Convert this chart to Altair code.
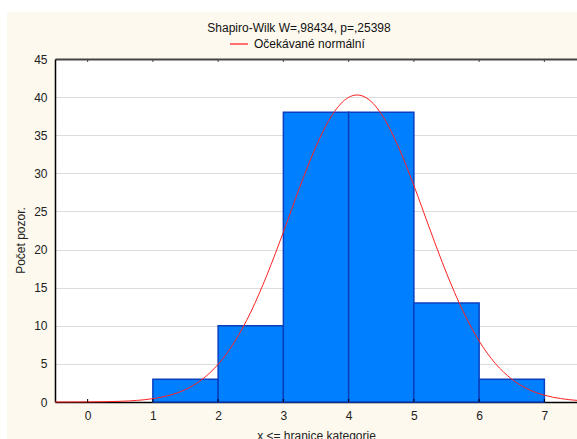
import altair as alt
import pandas as pd

# Histogram data
bin_start = [1, 2, 3, 4, 5, 6]
bin_end = [2, 3, 4, 5, 6, 7]
counts = [3, 10, 38, 38, 13, 3]

# Expected normal curve
curve_x = [-0.5, -0.25, 0, 0.25, 0.5, 0.75, 1, 1.25, 1.5, 1.75, 2, 2.25, 2.5, 2.75, 3,
           3.25, 3.5, 3.75, 4, 4.13, 4.25, 4.5, 4.75, 5, 5.25, 5.5, 5.75, 6, 6.25, 6.5,
           6.75, 7, 7.25, 7.5]
curve_y = [0.002, 0.006, 0.015, 0.038, 0.091, 0.205, 0.44, 0.87, 1.64, 2.94, 4.94, 7.86,
           11.79, 16.70, 22.3, 28.16, 33.52, 37.68, 39.97, 40.28, 40.01, 37.81, 33.72, 28.4,
           22.55, 16.91, 11.97, 8.0, 5.04, 3.00, 1.68, 0.89, 0.45, 0.21]

x_ticks = [0, 1, 2, 3, 4, 5, 6, 7]
y_ticks = [0, 5, 10, 15, 20, 25, 30, 35, 40, 45]

title_text = "Shapiro-Wilk W=,98434, p=,25398"
legend_text = "Očekávané normální"
x_title = "x <= hranice kategorie"
y_title = "Počet pozor."

W, H = 522, 343
FONT = "Liberation Sans"

bars_df = pd.DataFrame({"start": bin_start, "end": bin_end, "count": counts})
curve_df = pd.DataFrame({"x": curve_x, "y": curve_y})
ticks_df = pd.DataFrame({"t": x_ticks})
one = alt.Data(values=[{"a": 1}])

xscale = alt.Scale(domain=[-0.5, 7.5], nice=False, zero=False)
yscale = alt.Scale(domain=[0, 45], nice=False, zero=True)

x_axis = alt.Axis(values=x_ticks, format="d", title=x_title, grid=False, ticks=False,
                  domainColor="#000000", domainWidth=1.5, labelPadding=8,
                  titlePadding=9, labelFontSize=12, titleFontSize=12,
                  labelFont=FONT, titleFont=FONT, labelColor="#222222",
                  titleColor="#222222", titleFontWeight="normal",
                  labelFlush=False, labelOverlap=False)
y_axis = alt.Axis(values=y_ticks, tickCount=10, format="d", title=y_title, grid=True,
                  gridColor={"condition": {"test": "datum.value == 45", "value": "#444444"},
                             "value": "#DCDCDC"},
                  gridWidth={"condition": {"test": "datum.value == 45", "value": 1.8},
                             "value": 1},
                  ticks=False, domainColor="#000000",
                  domainWidth=1.5, labelPadding=8, labelFontSize=12,
                  titleFontSize=12, labelFont=FONT, titleFont=FONT,
                  labelColor="#222222", titleColor="#222222",
                  titleFontWeight="normal", labelOverlap=False, labelFlush=False,
                  titleX=-31, titleY=181, titleAngle=270,
                  titleBaseline="alphabetic", titleAlign="center")

bars = alt.Chart(bars_df).mark_rect(
    fill="#0080FF", stroke="#0A3FC0", strokeWidth=1.5
).encode(
    x=alt.X("start:Q", scale=xscale, axis=x_axis),
    x2="end:Q",
    y=alt.Y("count:Q", scale=yscale, axis=y_axis),
    y2=alt.datum(0),
)

curve = alt.Chart(curve_df).mark_line(color="#FF2020", strokeWidth=1, interpolate="monotone").encode(
    x=alt.X("x:Q", scale=xscale, axis=x_axis),
    y=alt.Y("y:Q", scale=yscale, axis=y_axis),
)

bottom_ticks = alt.Chart(ticks_df).mark_rule(color="#000000", strokeWidth=1).encode(
    x=alt.X("t:Q", scale=xscale, axis=x_axis), y=alt.value(H), y2=alt.value(H - 3)
)
top_ticks = alt.Chart(ticks_df).mark_rule(color="#444444", strokeWidth=1).encode(
    x=alt.X("t:Q", scale=xscale, axis=x_axis), y=alt.value(0), y2=alt.value(3)
)

white_left = alt.Chart(one).mark_rect(fill="white").encode(
    x=alt.value(-55), x2=alt.value(-48), y=alt.value(-59), y2=alt.value(H + 37)
)
white_top = alt.Chart(one).mark_rect(fill="white").encode(
    x=alt.value(-55), x2=alt.value(W), y=alt.value(-59), y2=alt.value(-47)
)

title = alt.Chart(one).mark_text(
    text=title_text, font=FONT, fontSize=12, color="#111111",
    align="center", baseline="alphabetic"
).encode(x=alt.value(244), y=alt.value(-27))

legend_line = alt.Chart(one).mark_rect(fill="#FF4040").encode(
    x=alt.value(175), x2=alt.value(193), y=alt.value(-15.75), y2=alt.value(-14.25)
)
legend_label = alt.Chart(one).mark_text(
    text=legend_text, font=FONT, fontSize=12, color="#111111",
    align="left", baseline="alphabetic"
).encode(x=alt.value(199), y=alt.value(-11))

chart = alt.layer(
    white_left, white_top, bars, curve, bottom_ticks, top_ticks,
    title, legend_line, legend_label
).properties(
    width=W, height=H,
    padding={"left": 55, "top": 59, "right": 0, "bottom": 37},
    autosize=alt.AutoSizeParams(type="none"),
    background="#FDF9EE",
).configure_view(fill="white", strokeWidth=0)

chart.save("out.html", embed_options={"renderer": "svg", "actions": False})
